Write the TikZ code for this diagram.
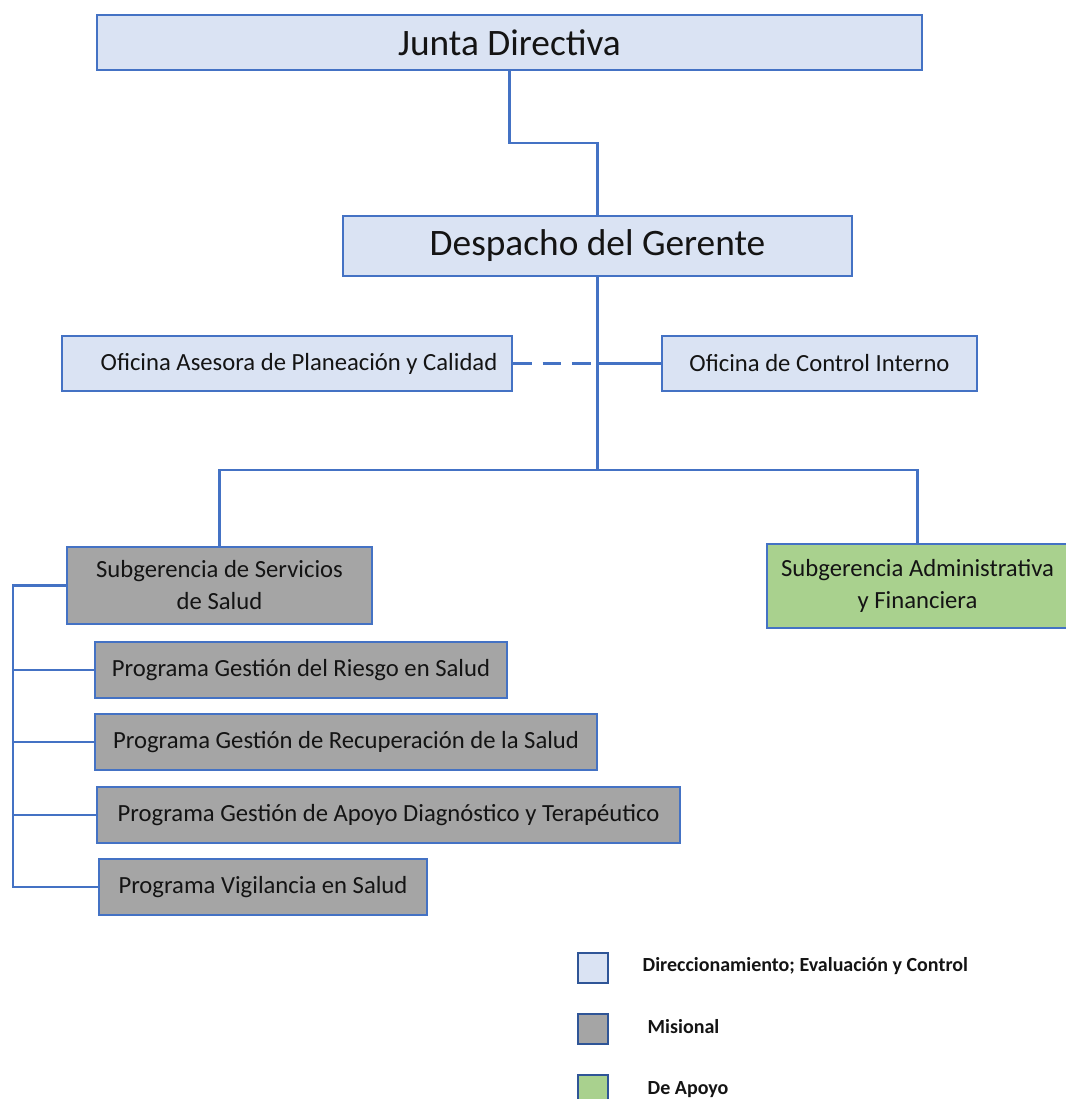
\documentclass[tikz,border=0pt]{standalone}
\usepackage{fontspec}
\setmainfont{Carlito}
\definecolor{lblue}{HTML}{DAE3F3}
\definecolor{bord}{HTML}{4472C4}
\definecolor{lnk}{HTML}{4472C4}
\definecolor{grayf}{HTML}{A5A5A5}
\definecolor{greenf}{HTML}{A9D18E}
\definecolor{legb}{HTML}{2F5597}
\definecolor{txt}{HTML}{141414}
\begin{document}
\begin{tikzpicture}[x=0.75pt,y=-0.75pt,
  box/.style={draw=bord,line width=1.8pt,inner sep=0pt,text=txt,align=center},
  dirbox/.style={box,fill=lblue},
  misbox/.style={box,fill=grayf},
  apobox/.style={box,fill=greenf},
  big/.style={font=\fontsize{28}{32}\selectfont},
  mid/.style={font=\fontsize{18.5}{24}\selectfont},
  link/.style={draw=lnk,line width=1.6pt},
  legbox/.style={draw=legb,line width=1.5pt,minimum width=22.5pt,minimum height=22.5pt,inner sep=0pt},
  legtxt/.style={anchor=west,text=txt,font=\fontsize{15}{17}\selectfont\bfseries}
]
\useasboundingbox[fill=white] (0,0) rectangle (1065,1099);

\node[dirbox,big,minimum width=618.75pt,minimum height=41.25pt] (j) at (509.5,42.5) {\raisebox{-3pt}{Junta Directiva}};
\node[dirbox,big,minimum width=381.75pt,minimum height=45pt] (d) at (597.5,246) {Despacho del Gerente};
\node[dirbox,mid,minimum width=337.5pt,minimum height=41.25pt] (oa) at (287,363.5) {\hspace*{18pt}Oficina Asesora de Planeación y Calidad};
\node[dirbox,mid,minimum width=236.25pt,minimum height=41.25pt] (oc) at (819.5,363.5) {Oficina de Control Interno};

\node[misbox,mid,minimum width=228.75pt,minimum height=57.75pt] (s1) at (219.5,585.5) {Subgerencia de Servicios\\de Salud};
\node[apobox,mid,minimum width=225.75pt,minimum height=63pt] (s2) at (917.5,586) {Subgerencia Administrativa\\y Financiera};

\node[misbox,mid,minimum width=309pt,minimum height=42pt] (p1) at (301,670) {Programa Gestión del Riesgo en Salud};
\node[misbox,mid,minimum width=376.5pt,minimum height=42pt] (p2) at (346,742) {Programa Gestión de Recuperación de la Salud};
\node[misbox,mid,minimum width=437.25pt,minimum height=42pt] (p3) at (388.5,815) {Programa Gestión de Apoyo Diagnóstico y Terapéutico};
\node[misbox,mid,minimum width=246pt,minimum height=42pt] (p4) at (263,887) {Programa Vigilancia en Salud};

\coordinate (k1) at (596,143);
\coordinate (hb) at (596,470);
\coordinate (bl) at (13,590);

\draw[link] (j.south) -- (j.south |- k1) -| (d.north);
\draw[link] (d.south) -- (d.south |- hb);
\draw[link,dash pattern=on 14pt off 8pt] (oa.east) -- (oa.east -| d.south);
\draw[link] (oc.west) -- (oc.west -| d.south);
\draw[link] (s1.north) |- (hb) -| (s2.north);
\draw[link] (s1.west) -- (s1.west -| bl) |- (p4.west);
\draw[link] (p1.west) -- (p1.west -| bl);
\draw[link] (p2.west) -- (p2.west -| bl);
\draw[link] (p3.west) -- (p3.west -| bl);

\node[legbox,fill=lblue] (l1) at (593,968) {};
\node[legbox,fill=grayf] (l2) at (593,1029) {};
\node[legbox,fill=greenf] (l3) at (593,1090) {};
\node[legtxt] (t1) at (638,966) {Direccionamiento; Evaluación y Control};
\node[legtxt] (t2) at (643,1027) {Misional};
\node[legtxt] (t3) at (643,1090) {De Apoyo};
\end{tikzpicture}
\end{document}
